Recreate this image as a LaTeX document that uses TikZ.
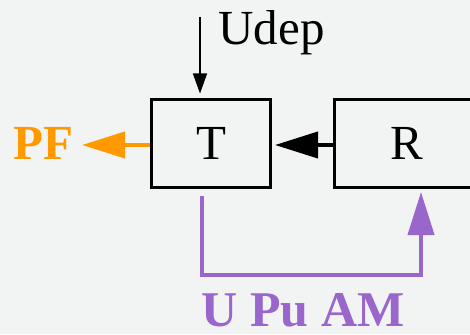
\documentclass[tikz,border=0pt]{standalone}
\usepackage{fontspec}
\setmainfont{Liberation Serif}
\usetikzlibrary{arrows.meta}
\definecolor{bgray}{HTML}{F2F3F3}
\definecolor{pforange}{HTML}{FF9900}
\definecolor{upurple}{HTML}{9966CC}
\begin{document}
\begin{tikzpicture}[x=1pt,y=-1pt,
    box/.style={draw, line width=2.5pt, minimum height=88pt, inner sep=0pt, font=\fontsize{49}{49}\selectfont},
    lbl/.style={inner sep=0pt, anchor=base, font=\fontsize{49}{49}\selectfont},
    bighead/.style={-{Triangle[length=43pt,width=26pt]}, line width=4pt}]
\fill[bgray] (0,0) rectangle (470,334);
\useasboundingbox (0,0) rectangle (470,334);
% blocks
\node[box, minimum width=119pt] (T) at (211,143.5) {T};
\node[box, minimum width=145pt] (R) at (407,143.5) {R};
% labels
\node[lbl] (udep) at (271.5,45) {Udep};
\node[lbl, text=pforange, font=\fontsize{49}{49}\selectfont\bfseries] (pf) at (43.5,159) {PF};
\node[lbl, text=upurple, font=\fontsize{50}{50}\selectfont\bfseries] (upam) at (303,326.5) {U Pu AM};
% connectors
\coordinate (udeptop) at (200,17);
\coordinate (udeptip) at (200,93.5);
\draw[-{Triangle[length=20pt,width=14pt]}, line width=1.5pt] (udeptop) -- (udeptip);
\coordinate (pftip) at (82,145);
\draw[bighead, pforange] (T.west |- pftip) -- (pftip);
\coordinate (rttip) at (275,145);
\draw[bighead, black] (R.west |- rttip) -- (rttip);
\coordinate (fb_s) at (202,196);
\coordinate (fb_e) at (421,192);
\draw[bighead, upurple] (fb_s) -- (202,274.5) -| (fb_e);
\end{tikzpicture}
\end{document}
